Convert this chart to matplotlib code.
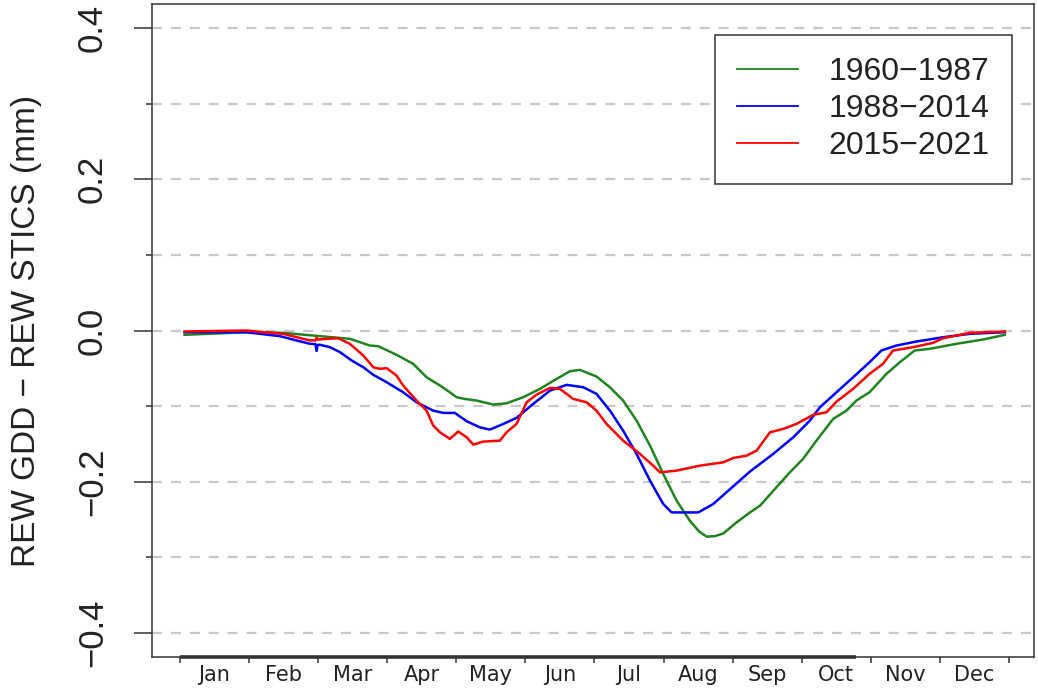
import matplotlib
matplotlib.use("Agg")
import matplotlib.pyplot as plt
import numpy as np


# Valeurs (jour de l'annee, difference de REW en mm)
mois = ["Jan", "Feb", "Mar", "Apr", "May", "Jun",
        "Jul", "Aug", "Sep", "Oct", "Nov", "Dec"]
periodes = ["1960\u22121987", "1988\u22122014", "2015\u22122021"]
couleurs = ["#1f841f", "#0000FF", "#FF0000"]

jours_1960 = [3, 30, 46, 62.5, 75.6, 84.4, 88.1, 96.1, 103.4, 109.3, 115.2, 119.5,
              122.5, 126, 131.3, 138.6, 144.4, 151.7, 159.1, 166.4, 172.2, 176.6,
              183.9, 189.8, 195.6, 201.5, 207.4, 213.2, 219.1, 224.9, 229, 232.3,
              236, 239.6, 245.4, 251.3, 255.7, 262.9, 268.8, 274.6, 280.5, 287.8,
              293.7, 298, 303.8, 311.2, 317.1, 323.6, 330.3, 342, 353.7, 363.2]
rew_1960 = [-0.0057, -0.0023, -0.003, -0.0075, -0.011, -0.0199, -0.0208, -0.0322,
            -0.0441, -0.0619, -0.0728, -0.0817, -0.0883, -0.0905, -0.0927, -0.098,
            -0.0963, -0.0883, -0.0772, -0.064, -0.0539, -0.0521, -0.0609, -0.0751,
            -0.0927, -0.1192, -0.1523, -0.1898, -0.2252, -0.2517, -0.266, -0.2728,
            -0.272, -0.2685, -0.2539, -0.2407, -0.2318, -0.2075, -0.1877, -0.1699,
            -0.1457, -0.117, -0.106, -0.0927, -0.0817, -0.0574, -0.042, -0.0265,
            -0.0242, -0.0176, -0.0119, -0.0057]

jours_1988 = [3, 30, 44.9, 52.2, 58.1, 60.5, 61, 61.5, 62.5, 66.9, 71.3, 76.4, 81.5,
              85.9, 91.8, 94.7, 99.0, 104.9, 112.2, 116.6, 121.7, 126.9, 132.7,
              137.1, 143.0, 148.8, 156.1, 163.5, 170.8, 178.1, 183.9, 189.8, 195.6,
              201.5, 207.4, 213.2, 216.9, 222.0, 228.6, 235.2, 242.5, 251.3, 261.5,
              270.3, 277.6, 282.0, 289.3, 296.6, 303.8, 309.0, 315.6, 324.4, 336.1,
              347.9, 363.2]
rew_1988 = [-0.0023, -0.0023, -0.0075, -0.0132, -0.0176, -0.018, -0.027, -0.019,
            -0.0189, -0.0221, -0.0287, -0.0397, -0.0486, -0.0587, -0.0685, -0.0738,
            -0.0817, -0.095, -0.106, -0.109, -0.109, -0.1201, -0.1281, -0.1311,
            -0.1236, -0.1156, -0.0971, -0.0795, -0.0719, -0.0751, -0.0838, -0.106,
            -0.1325, -0.1633, -0.1987, -0.2295, -0.2407, -0.2407, -0.2407, -0.2295,
            -0.21, -0.1866, -0.1633, -0.1413, -0.1192, -0.1016, -0.0817, -0.0619,
            -0.042, -0.0265, -0.0199, -0.0146, -0.0089, -0.0044, -0.0023]

jours_2015 = [3, 30, 46.2, 58.1, 60.5, 61, 61.5, 65.4, 70.5, 75.6, 81.5, 85.9, 88.8,
              91.8, 96.1, 99.0, 104.9, 109.3, 112.2, 115.2, 119.5, 123.2, 126.9,
              129.8, 134.2, 141.5, 144.4, 148.8, 153.2, 157.6, 163.5, 167.8, 173.7,
              179.6, 183.9, 188.3, 195.6, 203.0, 208.8, 211.8, 219.1, 229.3, 239.6,
              244.0, 249.8, 254.2, 260.1, 265.9, 271.7, 279.0, 284.9, 289.3, 296.6,
              303.8, 309.7, 314.1, 322.9, 331.7, 336.1, 347.9, 363.2]
rew_2015 = [-0.0013, 0.0, -0.0044, -0.0132, -0.013, -0.0095, -0.012, -0.011,
            -0.0102, -0.0176, -0.0331, -0.0486, -0.0507, -0.0499, -0.0596, -0.0728,
            -0.0927, -0.106, -0.1258, -0.1347, -0.1434, -0.1336, -0.1413, -0.151,
            -0.147, -0.1457, -0.1347, -0.1236, -0.095, -0.0848, -0.0759, -0.0772,
            -0.0905, -0.095, -0.106, -0.1236, -0.1457, -0.1633, -0.1788, -0.1877,
            -0.1854, -0.1788, -0.1744, -0.1686, -0.1656, -0.1589, -0.1347, -0.1302,
            -0.1236, -0.1117, -0.1082, -0.094, -0.0772, -0.0574, -0.0441, -0.0265,
            -0.0221, -0.0163, -0.0102, -0.003, -0.0013]

series_jours = [jours_1960, jours_1988, jours_2015]
series_rew = [rew_1960, rew_1988, rew_2015]


def tracer():
    fig = plt.figure(figsize=(10.38, 6.91), dpi=100)
    ax = fig.add_axes([0.1464, 0.0492, 0.8497, 0.945])

    # Grille horizontale en tirets tous les 0.1 mm
    for y in np.arange(-0.4, 0.41, 0.1):
        ax.axhline(y, color="#c8c8c8", lw=1.6, ls=(0, (4.5, 4)), zorder=0)

    for jours, rew, nom, coul in zip(series_jours, series_rew, periodes, couleurs):
        ax.plot(jours, rew, color=coul, lw=1.8, label=nom, zorder=2)

    ax.set_xlim(-11.3, 376.0)
    ax.set_ylim(-0.432, 0.432)

    # Axe x : graduations aux limites des mois, noms au milieu
    limites = 1 + np.arange(13) * 364 / 12
    milieux = (limites[:-1] + limites[1:]) / 2
    ax.set_xticks(limites)
    ax.set_xticklabels([])
    ax.set_xticks(milieux, minor=True)
    ax.set_xticklabels(mois, minor=True, fontsize=15, family="DejaVu Sans", color="#222222")
    ax.tick_params(axis="x", which="major", length=4.5, width=1.1, color="#333333")
    ax.tick_params(axis="x", which="minor", length=0, pad=6)
    ax.hlines(0, limites[0], 298, transform=ax.get_xaxis_transform(),
              color="#333333", lw=2.6, clip_on=False, zorder=5)

    # Axe y : etiquettes verticales
    ax.set_yticks([-0.4, -0.2, 0.0, 0.2, 0.4])
    ax.set_yticks([-0.3, -0.1, 0.1, 0.3], minor=True)
    ax.set_yticklabels(["\u22120.4", "\u22120.2", "0.0", "0.2", "0.4"],
                       family="Liberation Sans", fontsize=25, color="#222222")
    for lab in ax.get_yticklabels():
        lab.set_rotation(90)
        lab.set_va("center")
        lab.set_ha("right")
    ax.tick_params(axis="y", which="major", length=13, width=1.1, color="#333333", pad=18)
    ax.tick_params(axis="y", which="minor", length=4, width=1.1, color="#333333")

    ax.set_ylabel("REW GDD \u2212 REW STICS (mm)", family="Liberation Sans",
                  fontsize=24, color="#222222")
    ax.yaxis.set_label_coords(-0.125, 0.5)

    for spine in ax.spines.values():
        spine.set_color("#333333")
        spine.set_linewidth(1.1)

    leg = ax.legend(loc="upper right", bbox_to_anchor=(0.975, 0.9525), borderaxespad=0,
                    prop={"family": "Liberation Sans", "size": 23},
                    handlelength=1.9, handletextpad=0.95, labelspacing=0.22,
                    borderpad=0.7, fancybox=False, framealpha=1)
    leg.get_frame().set_edgecolor("#333333")
    leg.get_frame().set_linewidth(1.1)
    for t in leg.get_texts():
        t.set_color("#222222")
    for h in leg.get_lines():
        h.set_linewidth(1.3)

    fig.savefig("out.png", dpi=100)
    plt.close(fig)


if __name__ == "__main__":
    tracer()
